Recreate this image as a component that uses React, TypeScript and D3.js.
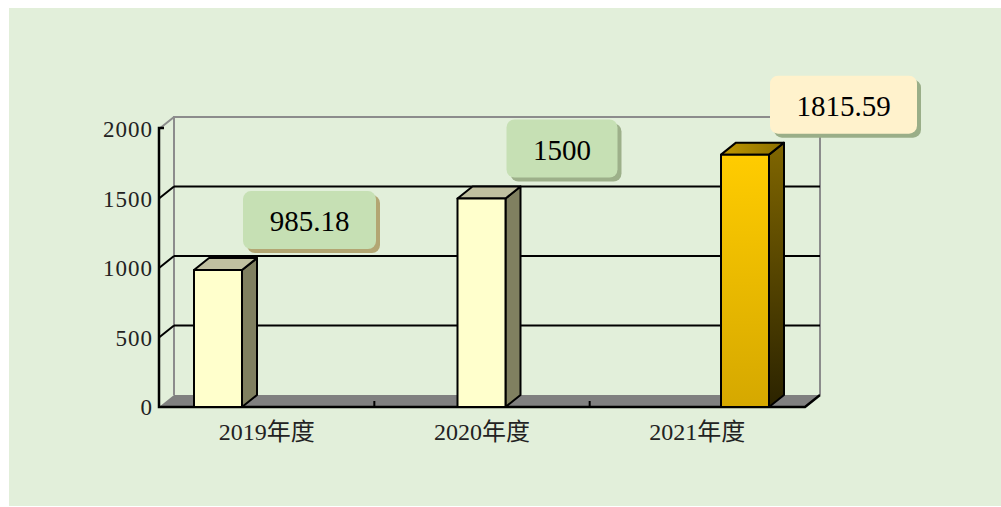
import * as d3 from 'd3';

const categories = ['2019年度', '2020年度', '2021年度'];
const values = [985.18, 1500, 1815.59];
const labels = ['985.18', '1500', '1815.59'];
const yTicks = [0, 500, 1000, 1500, 2000];

const W = 1001, H = 507;
const left = 159, right = 805, bottom = 407, top = 129;
const dx = 15, dy = -12;
const barW = 48;

export default function App() {
  const y = d3.scaleLinear().domain([0, 2000]).range([bottom, top]);
  const xBand = d3.scaleBand().domain(categories).range([left, right]);
  const xBar = d3.scalePoint().domain(categories).range([218, 745]);

  const labelStyle = [
    { fill: '#c6e0b4', shadow: '#b3a673' },
    { fill: '#c6e0b4', shadow: '#9db08a' },
    { fill: '#fff2cc', shadow: '#9aae88' },
  ];

  const textW = (s: string) => s.replace('.', '').length * 14 + (s.includes('.') ? 8 : 0);

  return (
    <svg width={W} height={H} style={{ position: 'absolute', left: 0, top: 0 }}>
      <defs>
        <linearGradient id="goldFront" x1="0" y1="0" x2="0" y2="1">
          <stop offset="0" stopColor="#ffcc00" />
          <stop offset="1" stopColor="#d5a800" />
        </linearGradient>
        <linearGradient id="goldSide" x1="0" y1="0" x2="0" y2="1">
          <stop offset="0" stopColor="#806600" />
          <stop offset="1" stopColor="#2b2300" />
        </linearGradient>
        <linearGradient id="goldTop" x1="0" y1="0" x2="1" y2="0">
          <stop offset="0" stopColor="#c09800" />
          <stop offset="1" stopColor="#8a6e00" />
        </linearGradient>
      </defs>
      <rect x={9} y={8} width={W - 9} height={H - 9} fill="#e2efda" />

      {/* floor */}
      <path d={`M${left},${bottom}L${left + dx},${bottom + dy}L${right + dx},${bottom + dy}L${right},${bottom}Z`} fill="#808080" />
      {/* walls */}
      <path d={`M${left + dx},${bottom + dy}V${top + dy}H${right + dx}V${bottom + dy}`} fill="none" stroke="#8c8c8c" strokeWidth={2} />
      <path d={`M${left},${top}L${left + dx},${top + dy}`} stroke="#8c8c8c" strokeWidth={2} />
      {yTicks.filter(t => t > 0 && t < 2000).map(t => (
        <g key={t}>
          <line x1={left + dx} x2={right + dx} y1={y(t) + dy} y2={y(t) + dy} stroke="#000" strokeWidth={2} />
          <line x1={left} x2={left + dx} y1={y(t)} y2={y(t) + dy} stroke="#000" strokeWidth={2} />
        </g>
      ))}
      {/* front axis */}
      <path d={`M${left + 5},${top - 1}H${left}V${bottom}H${right}L${right + dx},${bottom + dy}`} fill="none" stroke="#000" strokeWidth={2.5} />
      {xBand.domain().slice(1).map(c => (
        <line key={c} x1={xBand(c)!} x2={xBand(c)!} y1={bottom} y2={bottom - 6} stroke="#000" strokeWidth={2} />
      ))}

      {/* y labels */}
      {yTicks.map(t => (
        <text key={t} x={153} y={y(t)} dy="0.36em" textAnchor="end" fontFamily="Liberation Serif" fontSize={23} letterSpacing={1} fill="#222">{t}</text>
      ))}
      {/* category labels */}
      {categories.map(c => (
        <text key={c} x={xBand(c)! + xBand.bandwidth() / 2} y={440} textAnchor="middle" fontFamily="Liberation Serif, Noto Sans CJK SC" fontSize={24} fill="#222">{c}</text>
      ))}

      {/* bars */}
      {categories.map((c, i) => {
        const x0 = xBar(c)! - barW / 2, x1 = x0 + barW;
        const yt = y(values[i]);
        const gold = i === 2;
        return (
          <g key={c} stroke="#000" strokeWidth={2} strokeLinejoin="round">
            <path d={`M${x1},${bottom}L${x1 + dx},${bottom + dy}V${yt + dy}L${x1},${yt}Z`} fill={gold ? 'url(#goldSide)' : '#808060'} />
            <path d={`M${x0},${yt}L${x0 + dx},${yt + dy}H${x1 + dx}L${x1},${yt}Z`} fill={gold ? 'url(#goldTop)' : '#c0c0a0'} />
            <rect x={x0} y={yt} width={barW} height={bottom - yt} fill={gold ? 'url(#goldFront)' : '#ffffcc'} />
          </g>
        );
      })}

      {/* data labels */}
      {categories.map((c, i) => {
        const x0 = xBar(c)! + barW / 2 + 1;
        const bw = textW(labels[i]) + 55;
        const bh = 58;
        const yb = y(values[i]) + dy - 9;
        const st = labelStyle[i];
        return (
          <g key={c}>
            <rect x={x0 + 4} y={yb - bh + 4} width={bw} height={bh} rx={8} fill={st.shadow} />
            <rect x={x0} y={yb - bh} width={bw} height={bh} rx={8} fill={st.fill} />
            <text x={x0 + bw / 2} y={yb - bh / 2} dy="0.38em" textAnchor="middle" fontFamily="Liberation Serif" fontSize={29} fill="#000">{labels[i]}</text>
          </g>
        );
      })}
    </svg>
  );
}
